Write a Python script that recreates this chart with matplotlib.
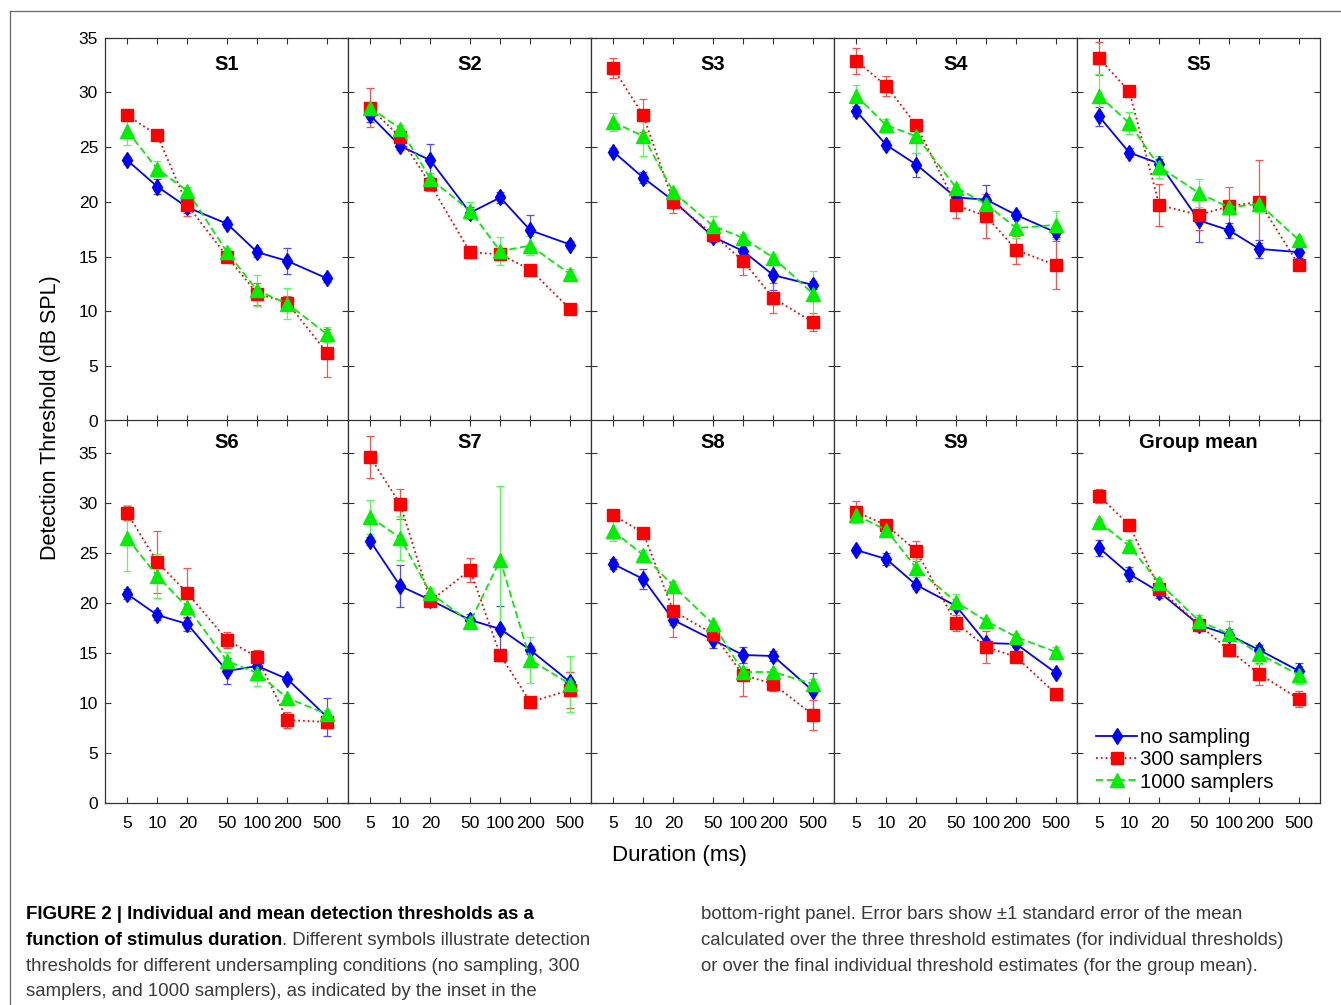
import matplotlib
matplotlib.use("Agg")
import matplotlib.pyplot as plt
from matplotlib.lines import Line2D
from matplotlib.ticker import FixedLocator, FixedFormatter, NullLocator
from matplotlib import font_manager

durations = [5, 10, 20, 50, 100, 200, 500]
panel_titles = ["S1", "S2", "S3", "S4", "S5", "S6", "S7", "S8", "S9", "Group mean"]
series_labels = ["no sampling", "300 samplers", "1000 samplers"]

# rows = panels S1..S9, Group mean ; columns = durations
no_sampling_mean = [
    [23.8, 21.4, 19.5, 18.0, 15.4, 14.6, 13.0],
    [27.9, 25.1, 23.8, 19.0, 20.4, 17.4, 16.1],
    [24.6, 22.2, 20.1, 16.8, 15.5, 13.3, 12.4],
    [28.3, 25.2, 23.4, 20.4, 20.2, 18.8, 17.2],
    [27.8, 24.5, 23.5, 18.3, 17.4, 15.7, 15.4],
    [20.9, 18.8, 17.9, 13.2, 13.7, 12.4, 8.6],
    [26.2, 21.7, 20.3, 18.3, 17.4, 15.3, 12.1],
    [23.9, 22.4, 18.3, 16.3, 14.8, 14.7, 11.2],
    [25.3, 24.4, 21.8, 19.7, 16.0, 15.9, 13.0],
    [25.5, 22.9, 21.1, 17.8, 16.8, 15.3, 13.2],
]
no_sampling_sem = [
    [0.3, 0.7, 0.5, 0.3, 0.4, 1.2, 0.3],
    [0.6, 0.4, 1.5, 0.5, 0.5, 1.4, 0.3],
    [0.3, 0.5, 0.5, 0.5, 0.8, 1.4, 0.4],
    [0.5, 0.4, 1.1, 0.4, 1.3, 0.4, 0.4],
    [0.9, 0.4, 0.4, 2.0, 0.7, 0.8, 0.5],
    [0.5, 0.5, 0.7, 1.3, 0.3, 0.3, 1.9],
    [0.4, 2.1, 0.3, 0.6, 2.3, 0.4, 1.0],
    [0.5, 1.0, 0.5, 0.8, 0.8, 0.5, 1.8],
    [0.3, 0.6, 0.4, 0.4, 0.4, 0.3, 0.3],
    [0.8, 0.7, 0.6, 0.6, 0.6, 0.5, 0.8],
]
samplers300_mean = [
    [27.9, 26.1, 19.7, 15.0, 11.6, 10.8, 6.2],
    [28.6, 25.9, 21.6, 15.4, 15.2, 13.8, 10.2],
    [32.2, 27.9, 20.0, 17.0, 14.6, 11.2, 9.0],
    [32.9, 30.6, 27.0, 19.7, 18.7, 15.6, 14.2],
    [33.1, 30.1, 19.7, 18.8, 19.6, 20.0, 14.2],
    [29.0, 24.1, 21.0, 16.3, 14.6, 8.3, 8.1],
    [34.6, 29.9, 20.2, 23.3, 14.8, 10.1, 11.3],
    [28.8, 27.0, 19.2, 16.9, 12.8, 11.9, 8.8],
    [29.1, 27.8, 25.2, 18.0, 15.6, 14.6, 10.9],
    [30.7, 27.8, 21.4, 17.8, 15.3, 12.9, 10.4],
]
samplers300_sem = [
    [0.2, 0.2, 1.0, 0.3, 1.0, 0.6, 2.2],
    [1.8, 0.5, 0.6, 0.5, 0.5, 0.2, 0.2],
    [0.9, 1.5, 1.0, 0.5, 1.3, 1.4, 0.8],
    [1.2, 0.9, 0.5, 1.2, 2.0, 1.3, 2.2],
    [1.5, 0.2, 1.9, 1.4, 1.8, 3.8, 0.3],
    [0.7, 3.1, 2.5, 0.8, 0.7, 0.8, 0.3],
    [2.1, 1.5, 0.3, 1.2, 0.6, 0.5, 1.8],
    [0.5, 0.2, 2.6, 0.4, 2.1, 0.7, 1.5],
    [1.1, 0.5, 1.0, 0.8, 1.6, 0.2, 0.2],
    [0.7, 0.6, 0.4, 0.6, 0.6, 1.1, 0.8],
]
samplers1000_mean = [
    [26.5, 23.0, 21.0, 15.4, 11.9, 10.7, 7.9],
    [28.6, 26.7, 22.1, 19.2, 15.5, 16.0, 13.4],
    [27.3, 26.0, 20.9, 17.8, 16.7, 14.9, 11.6],
    [29.7, 27.0, 26.0, 21.3, 19.8, 17.6, 17.9],
    [29.7, 27.2, 23.2, 20.8, 19.5, 19.8, 16.5],
    [26.5, 22.7, 19.6, 14.2, 13.0, 10.5, 8.9],
    [28.6, 26.5, 21.0, 18.1, 24.3, 14.3, 11.9],
    [27.2, 24.8, 21.7, 17.9, 13.1, 13.1, 11.9],
    [28.8, 27.3, 23.5, 20.1, 18.2, 16.6, 15.1],
    [28.1, 25.7, 22.0, 18.2, 16.9, 14.9, 12.8],
]
samplers1000_sem = [
    [1.3, 0.7, 0.4, 0.4, 1.4, 1.4, 0.7],
    [0.3, 0.3, 0.5, 0.8, 1.3, 0.9, 0.5],
    [0.8, 1.8, 0.3, 0.9, 0.4, 0.3, 2.1],
    [1.0, 0.6, 1.5, 0.3, 0.5, 0.9, 1.3],
    [2.0, 1.0, 1.0, 1.3, 0.5, 0.7, 0.4],
    [3.3, 2.2, 0.8, 0.9, 1.3, 0.3, 0.4],
    [1.7, 2.2, 0.5, 0.5, 7.4, 2.3, 2.8],
    [1.0, 0.5, 0.5, 0.3, 0.5, 0.3, 0.5],
    [0.8, 0.3, 0.9, 0.8, 0.3, 0.3, 0.5],
    [0.3, 0.6, 0.5, 0.6, 1.3, 1.0, 0.9],
]

caption_left = [
    "FIGURE 2 | Individual and mean detection thresholds as a",
    "function of stimulus duration",
    ". Different symbols illustrate detection",
    "thresholds for different undersampling conditions (no sampling, 300",
    "samplers, and 1000 samplers), as indicated by the inset in the",
]
caption_right = [
    "bottom-right panel. Error bars show \u00b11 standard error of the mean",
    "calculated over the three threshold estimates (for individual thresholds)",
    "or over the final individual threshold estimates (for the group mean).",
]


def has_font(name):
    try:
        font_manager.findfont(name, fallback_to_default=False)
        return True
    except ValueError:
        return False


def main():
    plt.rcParams['font.family'] = ['Liberation Sans', 'DejaVu Sans']
    W, H = 1341, 1005
    fig = plt.figure(figsize=(W / 100, H / 100), dpi=100)

    left, col_w = 105, 243
    row_tops = [37.7, 420]
    row_h = 383
    row_ylim = [35, 38.3]
    title_offset = [27, 22]

    styles = [
        dict(color="#0000ff", ls="-", marker="d", ms=8.5, ecolor="#4d4dff"),
        dict(color="#ff0000", ls=":", marker="s", ms=9, ecolor="#ff5050"),
        dict(color="#00f000", ls=(0, (4, 2)), marker="^", ms=10, ecolor="#50ff50"),
    ]
    means = [no_sampling_mean, samplers300_mean, samplers1000_mean]
    sems = [no_sampling_sem, samplers300_sem, samplers1000_sem]

    axes = []
    for i, title in enumerate(panel_titles):
        r, c = divmod(i, 5)
        x0 = left + c * col_w
        y_top = row_tops[r]
        ax = fig.add_axes([x0 / W, 1 - (y_top + row_h) / H, col_w / W, row_h / H])
        axes.append(ax)
        for k in range(3):
            st = styles[k]
            ax.errorbar(durations, means[k][i], yerr=sems[k][i], color=st["color"],
                        ls=st["ls"], lw=1.3, marker=st["marker"], ms=st["ms"],
                        mec=st["color"], mfc=st["color"], ecolor=st["ecolor"],
                        elinewidth=0.9, capsize=3, capthick=0.9,
                        label=series_labels[k])
        ax.set_xscale("log")
        ax.set_xlim(3.0, 810)
        ax.set_ylim(0, row_ylim[r])
        ax.xaxis.set_major_locator(FixedLocator(durations))
        ax.xaxis.set_minor_locator(NullLocator())
        ax.xaxis.set_major_formatter(FixedFormatter([str(d) for d in durations]))
        ax.set_yticks(range(0, 36, 5))
        ax.tick_params(direction="in", length=4, width=0.8, top=True, right=True,
                       labelsize=12.5, colors="#333333", labelcolor="black")
        ax.tick_params(axis="x", pad=9)
        ax.tick_params(axis="y", pad=5)
        if r == 0:
            ax.tick_params(labelbottom=False)
        if c != 0:
            ax.tick_params(labelleft=False)
        for sp in ax.spines.values():
            sp.set_color("#333333")
            sp.set_linewidth(0.9)
        ax.text(0.5, 1 - title_offset[r] / row_h, title, transform=ax.transAxes,
                ha="center", va="center", fontsize=14.5, fontweight="bold")

    # legend shows only line + marker (no error bar glyph)
    handles, labels = axes[-1].get_legend_handles_labels()
    handles = [h[0] for h in handles]
    axes[-1].legend(handles, labels, loc="lower left", bbox_to_anchor=(0.08, 0.03),
                    frameon=False, fontsize=14.7, handlelength=2.0, handletextpad=0.15,
                    labelspacing=0.15, borderpad=0, borderaxespad=0)

    fig.text(51 / W, 1 - 418 / H, "Detection Threshold (dB SPL)", rotation=90,
             ha="center", va="center", fontsize=15.5)
    fig.text(679 / W, 1 - 855 / H, "Duration (ms)", ha="center", va="center", fontsize=16)

    # frame around the figure area
    fig.add_artist(Line2D([10 / W, 10 / W], [0, 1 - 11 / H], color="#666666", lw=0.9))
    fig.add_artist(Line2D([10 / W, 1], [1 - 11 / H, 1 - 11 / H], color="#666666", lw=0.9))

    # caption
    cap_family = ['Liberation Sans Narrow', 'Liberation Sans'] if has_font('Liberation Sans Narrow') else ['Liberation Sans']
    renderer = fig.canvas.get_renderer()
    probe = fig.text(0, 0, caption_left[3], fontsize=10, family=cap_family)
    w10 = probe.get_window_extent(renderer).width
    probe.remove()
    cap_size = 10 * 557 / w10
    line_y = [914, 940, 966, 991]
    cap_color = "#3a3a3a"
    fig.text(26 / W, 1 - line_y[0] / H, caption_left[0], fontsize=cap_size, family=cap_family,
             fontweight="bold", va="center", color="black")
    bold2 = fig.text(26 / W, 1 - line_y[1] / H, caption_left[1], fontsize=cap_size,
                     family=cap_family, fontweight="bold", va="center", color="black")
    bw = bold2.get_window_extent(renderer).width
    fig.text((26 + bw) / W, 1 - line_y[1] / H, caption_left[2], fontsize=cap_size,
             family=cap_family, va="center", color=cap_color)
    fig.text(26 / W, 1 - line_y[2] / H, caption_left[3], fontsize=cap_size, family=cap_family,
             va="center", color=cap_color)
    fig.text(26 / W, 1 - line_y[3] / H, caption_left[4], fontsize=cap_size, family=cap_family,
             va="center", color=cap_color)
    for j, line in enumerate(caption_right):
        fig.text(701 / W, 1 - line_y[j] / H, line, fontsize=cap_size, family=cap_family,
                 va="center", color=cap_color)

    fig.savefig("out.png", dpi=100)
    plt.close(fig)


if __name__ == "__main__":
    main()
